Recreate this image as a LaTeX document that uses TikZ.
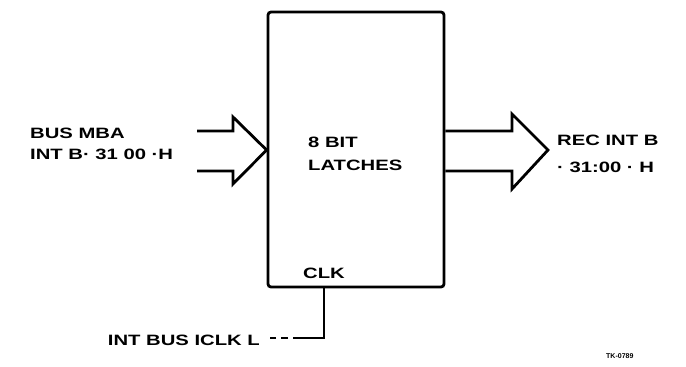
\documentclass[tikz,border=0pt]{standalone}
\usepackage{fontspec}
\setmainfont{Liberation Sans}
\newfontfamily\lblfont[FakeStretch=1.35]{Liberation Sans}
\begin{document}
\begin{tikzpicture}[x=1pt,y=-1pt,
  wire/.style={line width=2.8pt, line join=miter},
  lbl/.style={inner sep=0pt, anchor=base west, font=\lblfont\fontsize{15}{17}\selectfont\bfseries},
]
\useasboundingbox[fill=white] (0,0) rectangle (686,367);
% box
\node[draw, line width=2.8pt, rounded corners=3pt, minimum width=176pt, minimum height=275pt, inner sep=0pt] (box) at (356,149.5) {};
% labels inside
\node[lbl] (l8) at (308,147) {8 BIT};
\node[lbl] (lat) at (308,170) {LATCHES};
\node[lbl] (clk) at (303,278) {CLK};
% left input arrow
\coordinate (lt) at (box.west |- 0,150);
\draw[wire] (197,131) -- (233,131) -- (233,117) -- (lt) -- (233,184) -- (233,171) -- (197,171);
\node[lbl] (in1) at (30,138) {BUS MBA};
\node[lbl] (in2) at (30,159) {INT B· 31 00 ·H};
% right output arrow
\draw[wire] (box.east |- 0,131) -- (512,131) -- (512,114) -- (548,150) -- (512,189) -- (512,171) -- (box.east |- 0,171);
\node[lbl] (o1) at (557,145) {REC INT B};
\node[lbl] (o2) at (557,172) {· 31:00 · H};
% clock line
\coordinate (cb) at (box.south -| 324,0);
\coordinate (cc) at (324,338);
\draw[wire] (cb) -- (cc) -- (300,338);
\draw[wire, dash pattern=on 7pt off 5pt] (300,338) -- (270,338);
\node[lbl, anchor=base east] (ck) at (260,345) {INT BUS ICLK L};
\node[inner sep=0pt, anchor=base west, font=\fontsize{7}{8}\selectfont\bfseries] (tk) at (606,358) {TK-0789};
\end{tikzpicture}
\end{document}
